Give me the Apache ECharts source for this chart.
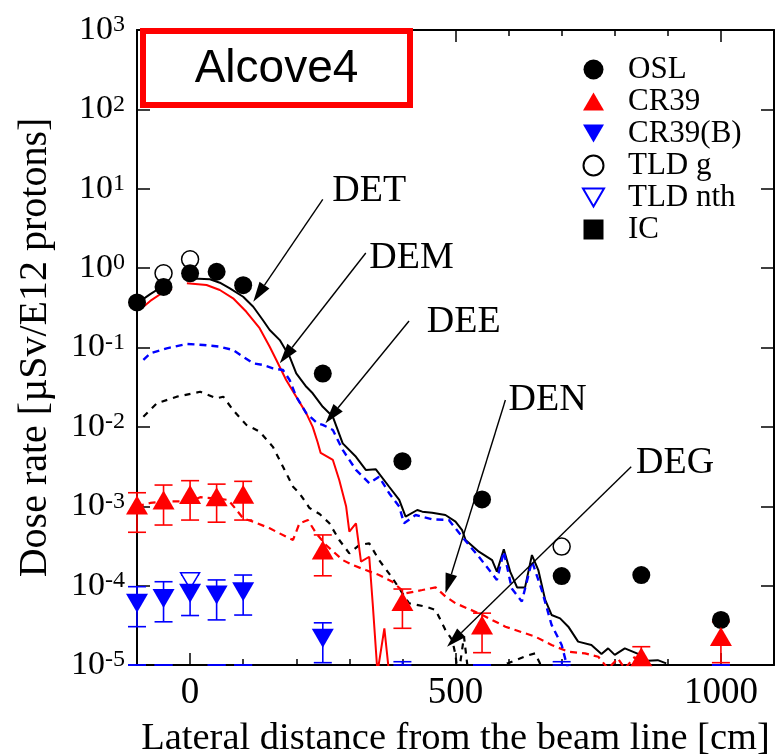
<!DOCTYPE html>
<html>
<head>
<meta charset="utf-8">
<script src="https://cdn.jsdelivr.net/npm/echarts@6/dist/echarts.min.js"></script>
<style>html,body{margin:0;padding:0;background:#fff}#chart{width:784px;height:755px}</style>
</head>
<body>
<div id="chart"></div>
<script>
const SERIF = "'Liberation Serif','Times New Roman',serif";
const SANS = "'Liberation Sans',Arial,sans-serif";

// Detector positions, lateral distance from the beam line [cm]
const positions = [-100, -50, 0, 50, 100, 250, 400, 550, 700, 850, 1000];

// Measured dose rates [uSv / 1E12 protons]
const osl       = [0.37, 0.58, 0.86, 0.90, 0.61, 0.047, 0.0037, 0.00122, 1.32e-4, 1.36e-4, 3.7e-5];
const cr39      = [1.04e-3, 1.2e-3, 1.41e-3, 1.32e-3, 1.42e-3, 2.81e-4, 6.3e-5, 3.2e-5, null, 1.27e-5, 2.28e-5];
const cr39Low   = [4.7e-4, 5.8e-4, 6.7e-4, 6.3e-4, 6.7e-4, 1.33e-4, 2.9e-5, 1.43e-5, null, 5e-6, 1.07e-5];
const cr39High  = [1.48e-3, 1.85e-3, 2.1e-3, 1.9e-3, 2.06e-3, 4.35e-4, 9.06e-5, 4.5e-5, null, 1.7e-5, 3.5e-5];
const cr39b     = [5.98e-5, 6.9e-5, 8.0e-5, 7.6e-5, 8.4e-5, 2.17e-5, null, null, null, null, null];
const cr39bLow  = [3.04e-5, 3.5e-5, 4.2e-5, 3.7e-5, 4.26e-5, 1.07e-5, 5e-6, 5e-6, 5e-6, 5e-6, 5e-6];
const cr39bHigh = [9.7e-5, 1.12e-4, 1.36e-4, 1.18e-4, 1.36e-4, 3.4e-5, 1.1e-5, 1.0e-5, 1.1e-5, 1.0e-5, 1.0e-5];
const tldG      = [null, 0.86, 1.29, null, null, null, null, null, 3.1e-4, null, null];
const tldNth    = [null, null, 1.15e-4, null, null, null, null, null, null, null, null];
const tldNthLow = [5e-6, 5e-6, null, 5e-6, 5e-6, null, null, null, null, null, null];
const tldNthHigh= [1e-5, 1e-5, null, 1e-5, 1e-5, null, null, null, null, null, null];
const ic        = [null, null, null, null, null, null, null, null, null, null, null];

// Calculated dose components (null = no calculation in that interval)
const detX = [-100, -75, -50, -35, -20, -6, 37.5, 56, 75, 100, 119, 137, 150, 169, 187.5, 200, 219, 231, 250, 269, 287.5, 312.5, 331, 350, 375, 394, 406, 428, 437.5, 456, 481, 500, 512.5, 519, 544, 569, 578, 591, 603, 616, 631, 644, 656, 669, 681, 697, 712.5, 731, 756, 775, 787.5, 800, 819, 844, 862.5, 881, 897];
const detY = [0.36, 0.47, 0.6, 0.63, null, 0.745, 0.723, 0.655, 0.557, 0.436, 0.326, 0.222, 0.166, 0.124, 0.0766, 0.0473, 0.032, 0.0265, 0.0179, 0.0134, 0.0062, 0.0042, 0.00287, 0.00292, 0.00176, 0.0012, 7.4e-4, 8.97e-4, 8.55e-4, 8.3e-4, 7.76e-4, 6.4e-4, 5.0e-4, 3.76e-4, 2.68e-4, 2.1e-4, 1.5e-4, 2.87e-4, 1.5e-4, 9.5e-5, 9.5e-5, 2.43e-4, 1.57e-4, 6.6e-5, 4.27e-5, 3.87e-5, 3.04e-5, 1.97e-5, 1.79e-5, 1.38e-5, 1.62e-5, 1.34e-5, 1.62e-5, 1.38e-5, 1.13e-5, 1.15e-5, 1.05e-5];

const demX = [-100, -84, -75, -50, -34, -20, -6, 31, 56, 81, 106, 131, 150, 162.5, 181, 200, 219, 231, 240, 246, 269, 281, 294, 300, 312.5, 322, 337.5, 344, 353, 366, 378];
const demY = [0.30, 0.343, 0.386, 0.5, 0.545, null, 0.644, 0.612, 0.53, 0.417, 0.282, 0.175, 0.102, 0.0697, 0.039, 0.024, 0.0148, 0.0100, 0.0065, 0.0047, 0.00383, 0.00214, 9.9e-4, 4.78e-4, 6.1e-4, 2.0e-4, 2.31e-4, 6.0e-5, 8e-6, 2.9e-5, 5e-6];

const deeX = [-88, -75, -44, -6, 25, 56, 81, 100, 119, 137.5, 156, 175, 187.5, 200, 219, 240, 250, 269, 287.5, 312.5, 337.5, 356, 375, 394, 403, 425, 456, 487.5, 512.5, 544, 578, 591, 606, 625, 644, 662.5, 681, 700, 709, 720];
const deeY = [0.0697, 0.0845, 0.0977, 0.111, 0.1076, 0.1024, 0.093, 0.0766, 0.0632, 0.0602, 0.0547, 0.052, 0.039, 0.024, 0.0148, 0.0111, 0.0106, 0.00914, 0.00512, 0.00287, 0.00195, 0.00236, 0.00146, 9.9e-4, 6.1e-4, 7.76e-4, 6.86e-4, 6.7e-4, 4.13e-4, 2.31e-4, 1.18e-4, 2.68e-4, 9.2e-5, 6.3e-5, 2.04e-4, 8.8e-5, 3.2e-5, 1.79e-5, 1.04e-5, 6e-6];

const denX = [-100, -75, -50, -25, 0, 19, 50, 72, 87.5, 100, 119, 150, 181, 194, 206, 222, 237.5, 256, 287.5, 306, 331, 356, 381, 406, 437.5, 462.5, 481, 500, 544, 594, 650, 681, 712.5, 744, 769, 787.5, 806, 819, 837.5, 853, 870];
const denY = [1.0e-3, 1.1e-3, 1.15e-3, 1.15e-3, 1.15e-3, 1.3e-3, 1.25e-3, 1.2e-3, 9e-4, 7.0e-4, 6.4e-4, 5.27e-4, 4.13e-4, 3.76e-4, 6.1e-4, 6.7e-4, 4.56e-4, 3.25e-4, 2.1e-4, 1.82e-4, 1.57e-4, 1.36e-4, 1.12e-4, 8.0e-5, 8.8e-5, 9.5e-5, 7.3e-5, 6.0e-5, 4.48e-5, 3.04e-5, 2.28e-5, 1.79e-5, 1.47e-5, 1.4e-5, 1.27e-5, 9e-6, 1.21e-5, 9e-6, 1.26e-5, 9e-6, 6e-6];

const degX = [-88, -62.5, -25, 19, 50, 62.5, 81, 106, 131, 156, 175, 194, 206, 225, 244, 262.5, 281, 300, 319, 337.5, 356, 381, 412.5, 444, 462.5, 481, 494, 500, 505, 516, 525, 540, 585, 591, 600, 637.5, 650, 659, 670];
const degY = [0.0134, 0.0198, 0.024, 0.0277, 0.0229, 0.024, 0.0163, 0.0106, 0.0087, 0.0056, 0.00315, 0.00176, 0.00146, 9.5e-4, 8.0e-4, 6.1e-4, 3.76e-4, 2.55e-4, 3.25e-4, 3.41e-4, 2.1e-4, 1.25e-4, 6.0e-5, 5.43e-5, 4.93e-5, 2.76e-5, 2.06e-5, 1.34e-5, 7e-6, 2.28e-5, 7e-6, 5e-6, 5e-6, 1.03e-5, 1.06e-5, 1.33e-5, 1.4e-5, 1.05e-5, 5e-6];

// Curve annotations: label anchor (left edge), arrow tail and arrow tip, in data units
const noteNames = ['DET', 'DEM', 'DEE', 'DEN', 'DEG'];
const noteText  = [[268, 9.38], [337.5, 1.34], [446, 0.209], [600, 0.0218], [840, 0.00351]];
const arrowFrom = [[250, 7.37], [331, 1.55], [412.5, 0.216], [594, 0.0218], [831, 0.00315]];
const arrowTo   = [[119, 0.378], [169, 0.0632], [255, 0.0111], [481, 8.0e-5], [484, 1.7e-5]];

const legendNames = ['OSL', 'CR39', 'CR39(B)', 'TLD g', 'TLD nth', 'IC'];

const X_MIN = -100, X_MAX = 1100;
const Y_MIN = 1e-5, Y_MAX = 1e3;
const DOWN_TRIANGLE = 'path://M0,0L20,0L10,17Z';
const UP_TRIANGLE = 'path://M10,0L20,17L0,17Z';
const SQUARE = 'path://M0,0L10,0L10,10L0,10Z';

function points(values) {
  return positions.map((x, i) => values[i] == null ? null : [x, values[i]]).filter(Boolean);
}
function bars(low, high) {
  return positions.map((x, i) => low[i] == null ? null : [x, low[i], high[i]]).filter(Boolean);
}
function curve(xs, ys) {
  return xs.map((x, i) => [x, ys[i] == null ? '-' : ys[i]]);
}

function errorBarRenderer(color) {
  return function (params, api) {
    const x = api.value(0);
    const pLo = api.coord([x, api.value(1)]);
    const pHi = api.coord([x, api.value(2)]);
    const bottom = params.coordSys.y + params.coordSys.height;
    const yLo = Math.min(pLo[1], bottom);
    const yHi = Math.min(pHi[1], bottom);
    const half = 9;
    const style = { stroke: color, lineWidth: 1.6 };
    return {
      type: 'group',
      children: [
        { type: 'line', shape: { x1: pLo[0], y1: yLo, x2: pHi[0], y2: yHi }, style },
        { type: 'line', shape: { x1: pLo[0] - half, y1: yLo, x2: pLo[0] + half, y2: yLo }, style },
        { type: 'line', shape: { x1: pHi[0] - half, y1: yHi, x2: pHi[0] + half, y2: yHi }, style }
      ]
    };
  };
}

function noteRenderer(params, api) {
  const i = params.dataIndex;
  const p1 = api.coord(arrowFrom[i]);
  const p2 = api.coord(arrowTo[i]);
  const pt = api.coord(noteText[i]);
  const dx = p2[0] - p1[0], dy = p2[1] - p1[1];
  const len = Math.hypot(dx, dy);
  const ux = dx / len, uy = dy / len;
  const L = 20, W = 6;
  const bx = p2[0] - ux * L, by = p2[1] - uy * L;
  return {
    type: 'group',
    children: [
      { type: 'line', shape: { x1: p1[0], y1: p1[1], x2: bx, y2: by }, style: { stroke: '#000', lineWidth: 1.4 } },
      { type: 'polygon', shape: { points: [[p2[0], p2[1]], [bx - uy * W, by + ux * W], [bx + uy * W, by - ux * W]] }, style: { fill: '#000' } },
      { type: 'text', x: pt[0], y: pt[1], style: { text: noteNames[i], fontSize: 38, fontFamily: SERIF, fill: '#000', align: 'left', verticalAlign: 'middle' } }
    ]
  };
}

const axisLineStyle = { color: '#000', width: 2 };
const tickStyle = { color: '#000', width: 1.5 };

const gridRect = { left: 137, right: 10, top: 30, bottom: 90, outerBoundsMode: 'none' };

const chart = echarts.init(document.getElementById('chart'), null, { renderer: 'canvas' });

chart.setOption({
  animation: false,
  backgroundColor: '#fff',
  grid: [Object.assign({}, gridRect), Object.assign({}, gridRect)],
  xAxis: [
    {
      type: 'value', gridIndex: 0, position: 'bottom', min: X_MIN, max: X_MAX, interval: 100,
      axisLine: { show: true, onZero: false, lineStyle: axisLineStyle },
      axisTick: { show: true, inside: true, length: 6, lineStyle: tickStyle },
      splitLine: { show: false },
      axisLabel: {
        fontFamily: SERIF, fontSize: 37, color: '#000', margin: 10,
        formatter: v => (v % 500 === 0 ? String(v) : '')
      },
      name: 'Lateral distance from the beam line [cm]',
      nameLocation: 'middle', nameGap: 54,
      nameTextStyle: { fontFamily: SERIF, fontSize: 38.5, color: '#000' }
    },
    {
      type: 'value', gridIndex: 0, position: 'top', min: X_MIN, max: X_MAX, interval: 100,
      axisLine: { show: true, onZero: false, lineStyle: axisLineStyle },
      axisTick: { show: true, inside: true, length: 6, lineStyle: tickStyle },
      splitLine: { show: false }, axisLabel: { show: false }
    },
    {
      type: 'value', gridIndex: 1, position: 'bottom', min: X_MIN, max: X_MAX, interval: 100,
      axisLine: { show: false, onZero: false },
      axisTick: { show: true, inside: true, length: 12, customValues: [0, 500, 1000], lineStyle: tickStyle },
      splitLine: { show: false }, axisLabel: { show: false }
    },
    {
      type: 'value', gridIndex: 1, position: 'top', min: X_MIN, max: X_MAX, interval: 100,
      axisLine: { show: false, onZero: false },
      axisTick: { show: true, inside: true, length: 12, customValues: [0, 500, 1000], lineStyle: tickStyle },
      splitLine: { show: false }, axisLabel: { show: false }
    }
  ],
  yAxis: [
    {
      type: 'log', logBase: 10, gridIndex: 0, position: 'left', min: Y_MIN, max: Y_MAX, interval: 1,
      axisLine: { show: true, onZero: false, lineStyle: axisLineStyle },
      axisTick: { show: true, inside: true, length: 13, lineStyle: tickStyle },
      minorTick: { show: false }, splitLine: { show: false },
      axisLabel: {
        margin: 12, fontFamily: SERIF, fontSize: 34, color: '#000',
        formatter: v => '{b|10}{s|' + Math.round(Math.log10(v)) + '}',
        rich: {
          b: { fontFamily: SERIF, fontSize: 34, lineHeight: 34, color: '#000', padding: [6, 0, 0, 0], verticalAlign: 'bottom' },
          s: { fontFamily: SERIF, fontSize: 24, lineHeight: 24, color: '#000', verticalAlign: 'top' }
        }
      },
      name: 'Dose rate [\u00b5Sv/E12 protons]',
      nameLocation: 'middle', nameGap: 82,
      nameTextStyle: { fontFamily: SERIF, fontSize: 40, color: '#000' }
    },
    {
      type: 'log', logBase: 10, gridIndex: 0, position: 'right', min: Y_MIN, max: Y_MAX, interval: 1,
      axisLine: { show: true, onZero: false, lineStyle: axisLineStyle },
      axisTick: { show: true, inside: true, length: 13, lineStyle: tickStyle },
      minorTick: { show: false }, splitLine: { show: false }, axisLabel: { show: false }
    },
    {
      type: 'log', logBase: 10, gridIndex: 1, min: Y_MIN, max: Y_MAX, show: false
    }
  ],
  legend: {
    data: legendNames,
    orient: 'vertical',
    left: 577, top: 49,
    itemWidth: 21, itemHeight: 20, itemGap: 1,
    selectedMode: false,
    textStyle: { fontFamily: SERIF, fontSize: 31, color: '#000', lineHeight: 26, padding: [4, 0, 0, 19] }
  },
  graphic: [
    { type: 'rect', z: 100, shape: { x: 143, y: 31, width: 267, height: 74 }, style: { fill: '#fff', stroke: '#ff0000', lineWidth: 6 } },
    { type: 'text', z: 101, x: 276.5, y: 69, style: { text: 'Alcove4', fontSize: 46, fontFamily: SANS, fill: '#000', align: 'center', verticalAlign: 'middle' } }
  ],
  series: [
    { name: 'DEG', type: 'line', data: curve(degX, degY), symbol: 'none', z: 2, silent: true,
      lineStyle: { color: '#000', width: 2.2, type: [6, 6] } },
    { name: 'DEN', type: 'line', data: curve(denX, denY), symbol: 'none', z: 2, silent: true,
      lineStyle: { color: '#ff0000', width: 2.2, type: [7, 5] } },
    { name: 'DEM', type: 'line', data: curve(demX, demY), symbol: 'none', z: 2, silent: true,
      lineStyle: { color: '#ff0000', width: 2 } },
    { name: 'DET', type: 'line', data: curve(detX, detY), symbol: 'none', z: 2, silent: true,
      lineStyle: { color: '#000', width: 2 } },
    { name: 'DEE', type: 'line', data: curve(deeX, deeY), symbol: 'none', z: 3, silent: true,
      lineStyle: { color: '#0000ff', width: 2.4, type: [7, 5] } },

    { name: 'CR39 error', type: 'custom', data: bars(cr39Low, cr39High), renderItem: errorBarRenderer('#ff0000'),
      encode: { x: 0, y: [1, 2] }, z: 4, silent: true, clip: false },
    { name: 'CR39(B) error', type: 'custom', data: bars(cr39bLow, cr39bHigh), renderItem: errorBarRenderer('#0000ff'),
      encode: { x: 0, y: [1, 2] }, z: 4, silent: true, clip: false },
    { name: 'TLD nth error', type: 'custom', data: bars(tldNthLow, tldNthHigh), renderItem: errorBarRenderer('#0000ff'),
      encode: { x: 0, y: [1, 2] }, z: 4, silent: true, clip: false },

    { name: 'TLD g', type: 'scatter', data: points(tldG), symbol: 'circle', symbolSize: 17, z: 5,
      itemStyle: { color: '#fff', borderColor: '#000', borderWidth: 1.5, opacity: 1 } },
    { name: 'OSL', type: 'scatter', data: points(osl), symbol: 'circle', symbolSize: 18, z: 6,
      itemStyle: { color: '#000', opacity: 1 } },
    { name: 'CR39', type: 'scatter', data: points(cr39), symbol: UP_TRIANGLE, symbolSize: [22, 19], z: 6,
      itemStyle: { color: '#ff0000', opacity: 1 } },
    { name: 'TLD nth', type: 'scatter', data: points(tldNth), symbol: DOWN_TRIANGLE, symbolSize: [19, 16], z: 5,
      itemStyle: { color: '#fff', borderColor: '#0000ff', borderWidth: 1.5, opacity: 1 } },
    { name: 'CR39(B)', type: 'scatter', data: points(cr39b), symbol: DOWN_TRIANGLE, symbolSize: [22, 19], z: 6,
      itemStyle: { color: '#0000ff', opacity: 1 } },
    { name: 'IC', type: 'scatter', data: points(ic), symbol: SQUARE, symbolSize: 17, z: 6,
      itemStyle: { color: '#000', opacity: 1 } },

    { name: 'notes', type: 'custom', renderItem: noteRenderer, silent: true, clip: false, z: 7,
      data: noteNames.map((n, i) => [arrowFrom[i][0], arrowFrom[i][1], arrowTo[i][0], arrowTo[i][1]]),
      encode: { x: [0, 2], y: [1, 3] } }
  ]
});
</script>
</body>
</html>
